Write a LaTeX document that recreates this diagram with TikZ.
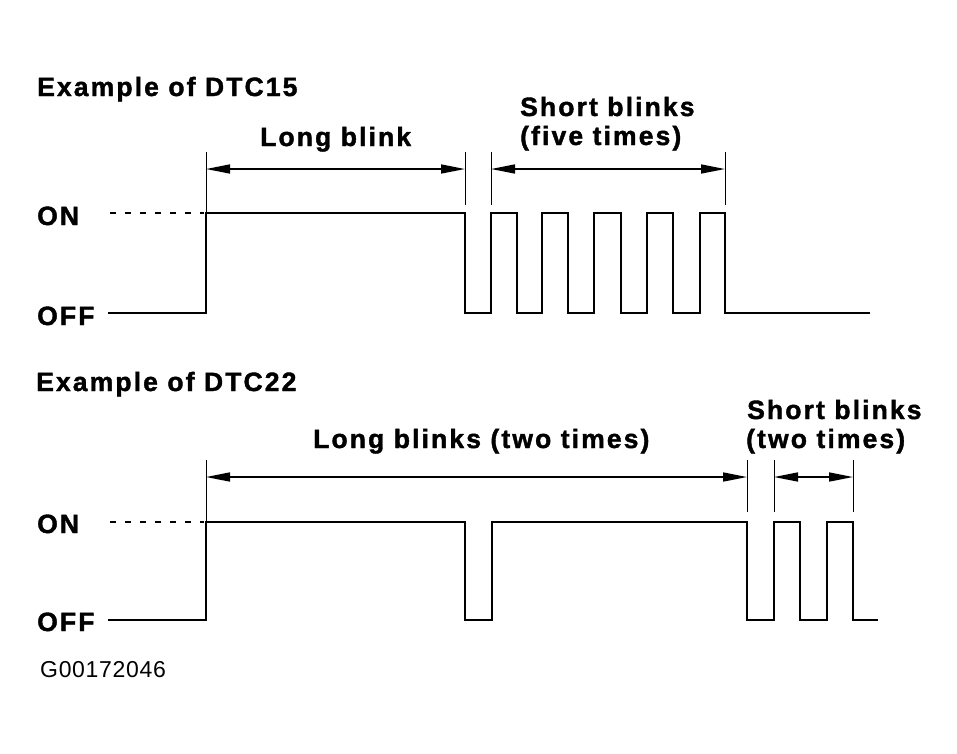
\documentclass[tikz,border=0pt]{standalone}
\usepackage{fontspec}
\usetikzlibrary{arrows.meta}
\newfontfamily\lblfont{Liberation Sans}[LetterSpace=8,FakeBold=1.5]
\newfontfamily\codefont{Liberation Sans}[LetterSpace=3]
\begin{document}
\begin{tikzpicture}[x=1pt,y=-1pt,
  lbl/.style={anchor=base west,inner sep=0pt,font=\lblfont\bfseries\fontsize{26.5}{30}\selectfont},
  code/.style={anchor=base west,inner sep=0pt,font=\codefont\fontsize{23}{27}\selectfont},
  wave/.style={line width=2.8pt,line join=miter},
  onlvl/.style={line width=1.6pt,dash pattern=on 6pt off 9pt},
  ext/.style={line width=0.9pt},
  dim/.style={line width=1.6pt,{Triangle[length=24pt,width=9pt]}-{Triangle[length=24pt,width=9pt]}}]
\useasboundingbox (0,0) rectangle (957,753);
% ---------- DTC15 ----------
\node[lbl] (t1) at (37,96) {Example of DTC15};
\node[lbl] (lb1) at (260,146) {Long blink};
\node[lbl] (sb1) at (520,116) {Short blinks};
\node[lbl] (ft1) at (520,145) {(five times)};
\node[lbl] (on1) at (37,225) {ON};
\node[lbl] (off1) at (37,325) {OFF};
\coordinate (d1s) at (110,213);
\coordinate (d1e) at (204,213);
\draw[onlvl] (d1s) -- (d1e);
\coordinate (w1s) at (108,313);
\draw[wave] (w1s) -- (206,313) -- (206,213) -- (465,213) -- (465,313)
  -- (491,313) -- (491,213) -- (517,213) -- (517,313)
  -- (542,313) -- (542,213) -- (568,213) -- (568,313)
  -- (594,313) -- (594,213) -- (621,213) -- (621,313)
  -- (647,313) -- (647,213) -- (673,213) -- (673,313)
  -- (700,313) -- (700,213) -- (725,213) -- (725,313) -- (870,313);
\coordinate (e1a) at (206,152); \coordinate (e1ab) at (206,212);
\coordinate (e1b) at (465,152); \coordinate (e1bb) at (465,205);
\coordinate (e1c) at (491,152); \coordinate (e1cb) at (491,205);
\coordinate (e1d) at (725,152); \coordinate (e1db) at (725,205);
\draw[ext] (e1a) -- (e1ab);
\draw[ext] (e1b) -- (e1bb);
\draw[ext] (e1c) -- (e1cb);
\draw[ext] (e1d) -- (e1db);
\coordinate (a1l) at (206,169); \coordinate (a1r) at (465,169);
\coordinate (a2l) at (491,169); \coordinate (a2r) at (725,169);
\draw[dim] (a1l) -- (a1r);
\draw[dim] (a2l) -- (a2r);
% ---------- DTC22 ----------
\node[lbl] (t2) at (36,391) {Example of DTC22};
\node[lbl] (lb2) at (313,448) {Long blinks (two times)};
\node[lbl] (sb2) at (747,419) {Short blinks};
\node[lbl] (tt2) at (746,448) {(two times)};
\node[lbl] (on2) at (37,533) {ON};
\node[lbl] (off2) at (37,631) {OFF};
\coordinate (d2s) at (110,522);
\coordinate (d2e) at (204,522);
\draw[onlvl] (d2s) -- (d2e);
\coordinate (w2s) at (108,620);
\draw[wave] (w2s) -- (206,620) -- (206,522) -- (465,522) -- (465,620)
  -- (492,620) -- (492,522) -- (747,522) -- (747,620)
  -- (774,620) -- (774,522) -- (800,522) -- (800,620)
  -- (827,620) -- (827,522) -- (853,522) -- (853,620) -- (878,620);
\coordinate (e2a) at (206,460); \coordinate (e2ab) at (206,521);
\coordinate (e2b) at (747,460); \coordinate (e2bb) at (747,512);
\coordinate (e2c) at (774,460); \coordinate (e2cb) at (774,512);
\coordinate (e2d) at (853,460); \coordinate (e2db) at (853,512);
\draw[ext] (e2a) -- (e2ab);
\draw[ext] (e2b) -- (e2bb);
\draw[ext] (e2c) -- (e2cb);
\draw[ext] (e2d) -- (e2db);
\coordinate (b1l) at (206,477); \coordinate (b1r) at (747,477);
\coordinate (b2l) at (774,477); \coordinate (b2r) at (853,477);
\draw[dim] (b1l) -- (b1r);
\draw[dim] (b2l) -- (b2r);
\node[code] (gid) at (40,677) {G00172046};
\end{tikzpicture}
\end{document}
